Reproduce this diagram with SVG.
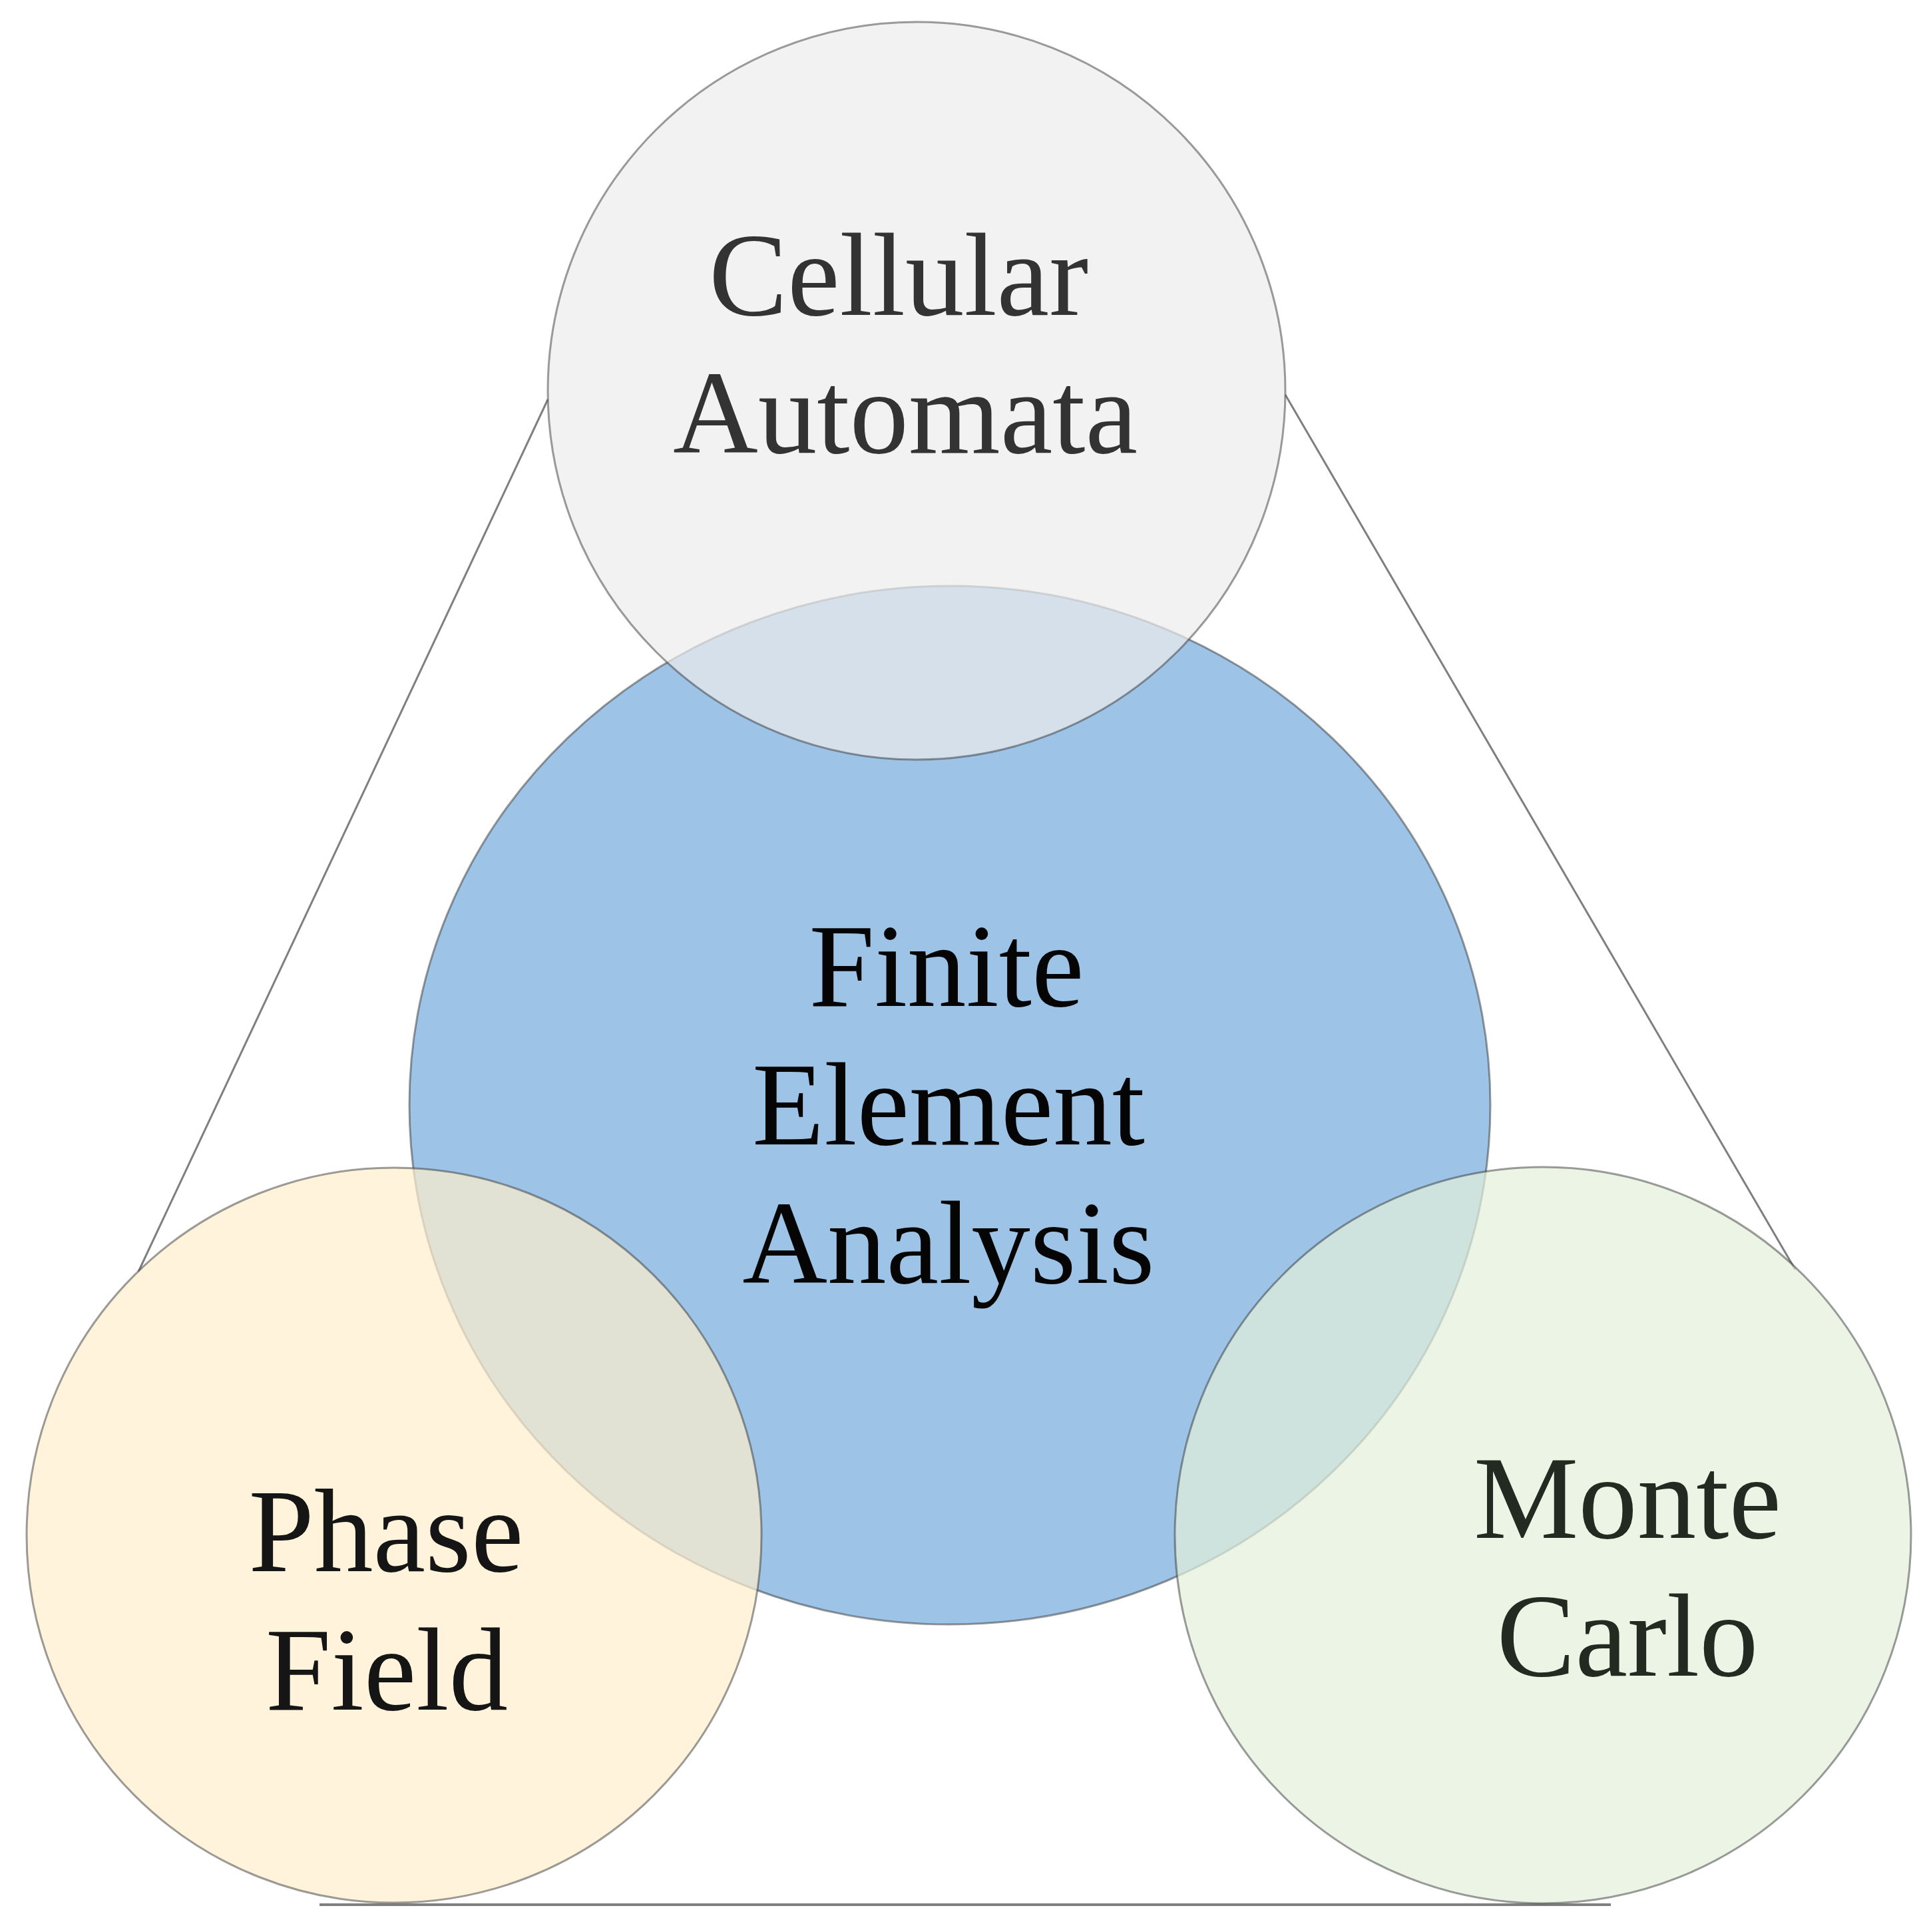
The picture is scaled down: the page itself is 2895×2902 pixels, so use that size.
<svg xmlns="http://www.w3.org/2000/svg" width="2895" height="2902" viewBox="0 0 2895 2902">
  <style>
    .edge { fill: none; stroke: #7f7f7f; stroke-width: 3; }
    .base { fill: none; stroke: #7f7f7f; stroke-width: 4; }
    .ring { stroke: #3a3a3a; stroke-opacity: 0.5; stroke-width: 3; }
    .lbl { font-family: "Liberation Serif", "Times New Roman", serif; font-size: 177px; text-anchor: middle; }
  </style>
  <rect x="0" y="0" width="2895" height="2902" fill="#ffffff"/>
  <g id="connectors">
    <line class="edge" x1="823" y1="600" x2="208" y2="1910"/>
    <line class="edge" x1="1931" y1="593" x2="2697" y2="1907"/>
    <line class="base" x1="480" y1="2861" x2="2420" y2="2861"/>
  </g>
  <g id="finite-element-analysis">
    <ellipse class="ring" cx="1427" cy="1660" rx="812" ry="780" fill="#9dc3e6"/>
    <text class="lbl" fill="#050505" x="1422" y="1511">Finite</text>
    <text class="lbl" fill="#050505" x="1425" y="1719">Element</text>
    <text class="lbl" fill="#050505" x="1425" y="1927">Analysis</text>
  </g>
  <g id="cellular-automata">
    <circle class="ring" cx="1377" cy="587" r="554" fill="#ececec" fill-opacity="0.7"/>
    <text class="lbl" fill="#333333" x="1350" y="473">Cellular</text>
    <text class="lbl" fill="#333333" x="1360" y="680">Automata</text>
  </g>
  <g id="phase-field">
    <circle class="ring" cx="592" cy="2306" r="552" fill="#fff0cc" fill-opacity="0.7"/>
    <text class="lbl" fill="#151515" x="580" y="2360">Phase</text>
    <text class="lbl" fill="#151515" x="581" y="2568">Field</text>
  </g>
  <g id="monte-carlo">
    <circle class="ring" cx="2318" cy="2306" r="553" fill="#e2efda" fill-opacity="0.7"/>
    <text class="lbl" fill="#222a22" x="2445" y="2310">Monte</text>
    <text class="lbl" fill="#222a22" x="2445" y="2517">Carlo</text>
  </g>
</svg>
